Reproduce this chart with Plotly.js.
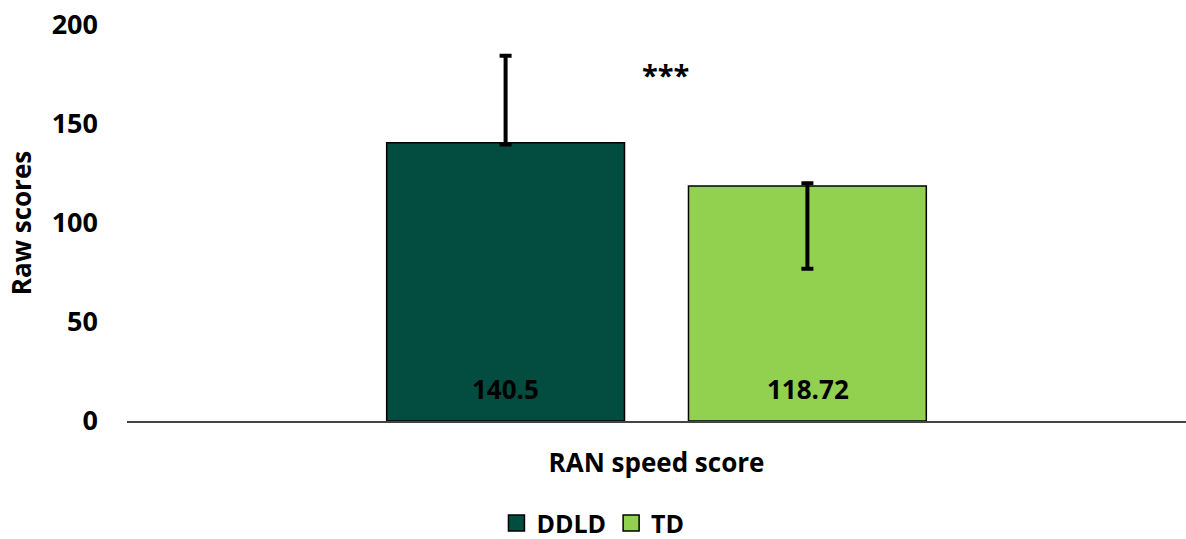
<!DOCTYPE html>
<html>
<head>
<meta charset="utf-8">
<script src="https://cdn.plot.ly/plotly-3.0.1.min.js"></script>
<style>html,body{margin:0;padding:0;background:#fff;}#chart{width:1186px;height:539px;}</style>
</head>
<body>
<div id="chart"></div>
<script>
var category = ["RAN speed score"];
var groups = ["DDLD", "TD"];
var means = [140.5, 118.72];
var errPlus = [44, 1.3];
var errMinus = [0.8, 41.8];
var colors = ["#024D40", "#92D050"];
var yTicks = [0, 50, 100, 150, 200];
var sigLabel = "***";

var FONT = "Open Sans, Liberation Sans, sans-serif";
var traces = [];
for (var i = 0; i < groups.length; i++) {
  traces.push({
    type: "bar",
    name: groups[i],
    x: category,
    y: [means[i]],
    marker: {color: colors[i], line: {color: "#000", width: 1.5}},
    error_y: {type: "data", symmetric: false, array: [errPlus[i]], arrayminus: [errMinus[i]],
              color: "#000", thickness: 4, width: 6},
    showlegend: false,
    hoverinfo: "skip"
  });
}
for (var j = 0; j < groups.length; j++) {
  traces.push({
    type: "scatter", mode: "markers", name: groups[j],
    x: [null], y: [null],
    marker: {symbol: "square", size: 18, color: colors[j], line: {color: "#000", width: 1.5}},
    showlegend: true
  });
}

var annotations = [{
  xref: "paper", yref: "y", x: 0.5085, y: 175, text: "<b>" + sigLabel + "</b>",
  showarrow: false, font: {family: FONT, size: 29, color: "#000"}
}];
var shifts = [-151, 151];
for (var k = 0; k < groups.length; k++) {
  annotations.push({
    xref: "x", yref: "y", x: category[0], y: 0, xshift: shifts[k], yshift: 32,
    text: "<b>" + String(means[k]) + "</b>", showarrow: false,
    font: {family: FONT, size: 26, color: "#000"}
  });
}

var layout = {
  width: 1186, height: 539,
  margin: {l: 127, r: 0, t: 25, b: 118, autoexpand: false},
  paper_bgcolor: "#fff", plot_bgcolor: "#fff",
  barmode: "group",
  bargap: 0.43,
  bargroupgap: 0.212,
  font: {family: FONT, color: "#000"},
  xaxis: {
    showticklabels: false, showgrid: false, zeroline: false, automargin: false,
    showline: true, linecolor: "#444", linewidth: 1.5,
    title: {text: "<b>" + category[0] + "</b>", font: {family: FONT, size: 26, color: "#000"}, standoff: 32}
  },
  yaxis: {
    range: [0, 200], tickvals: yTicks, ticktext: yTicks.map(String), automargin: false,
    showgrid: false, zeroline: false, showline: false,
    tickfont: {family: FONT, size: 27, color: "#000", weight: "bold"},
    ticklabelstandoff: 28,
    title: {text: "<b>Raw scores</b>", font: {family: FONT, size: 26, color: "#000"}, standoff: 12}
  },
  legend: {
    orientation: "h", x: 0.44, xanchor: "center", y: -0.258, yanchor: "middle",
    font: {family: FONT, size: 25, color: "#000", weight: "bold"},
    itemwidth: 30, tracegroupgap: 0
  },
  annotations: annotations
};

Plotly.newPlot("chart", traces, layout, {displayModeBar: false, staticPlot: true});
</script>
</body>
</html>
